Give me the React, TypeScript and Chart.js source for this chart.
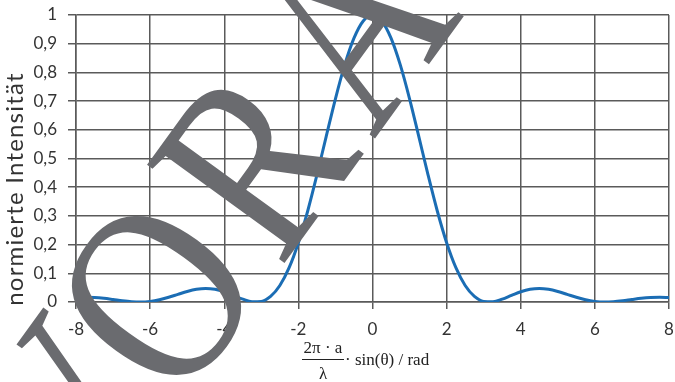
import React, { useEffect, useRef } from 'react';
import { Chart, registerables } from 'chart.js';

Chart.register(...registerables);

// x = 2π·a/λ · sin(θ)
const xValues = [
  -8, -7.75, -7.5, -7.25, -7, -6.75, -6.5, -6.25, -6, -5.75, -5.5, -5.25, -5,
  -4.75, -4.5, -4.25, -4, -3.75, -3.5, -3.25, -3, -2.75, -2.5, -2.25, -2,
  -1.75, -1.5, -1.25, -1, -0.75, -0.5, -0.25, 0,
  0.25, 0.5, 0.75, 1, 1.25, 1.5, 1.75, 2, 2.25, 2.5, 2.75, 3, 3.25, 3.5, 3.75,
  4, 4.25, 4.5, 4.75, 5, 5.25, 5.5, 5.75, 6, 6.25, 6.5, 6.75, 7, 7.25, 7.5, 7.75, 8,
];

const intensity = [
  0.0153, 0.0165, 0.0156, 0.0129, 0.0088, 0.0044, 0.0011, 0.0000, 0.0022, 0.0078, 0.0165, 0.0268, 0.0368,
  0.0443, 0.0472, 0.0443, 0.0358, 0.0232, 0.0100, 0.0011, 0.0022, 0.0193, 0.0573, 0.1196, 0.2067,
  0.3162, 0.4422, 0.5764, 0.7081, 0.8261, 0.9194, 0.9793, 1.0,
  0.9793, 0.9194, 0.8261, 0.7081, 0.5764, 0.4422, 0.3162, 0.2067, 0.1196, 0.0573, 0.0193, 0.0022, 0.0011, 0.0100, 0.0232,
  0.0358, 0.0443, 0.0472, 0.0443, 0.0368, 0.0268, 0.0165, 0.0078, 0.0022, 0.0000, 0.0011, 0.0044, 0.0088, 0.0129, 0.0156, 0.0165, 0.0153,
];

const yTickLabels = ['0', '0,1', '0,2', '0,3', '0,4', '0,5', '0,6', '0,7', '0,8', '0,9', '1'];
const yAxisTitle = 'normierte Intensität';
const xTitleNumerator = '2π · a';
const xTitleDenominator = 'λ';
const xTitleRest = '· sin(θ) / rad';
const watermarkText = 'VORAB';

const TICK_FONT = 'Lato';
const GRID = '#5a5a5a';
const LABEL = '#333333';

export default function App() {
  const ref = useRef<HTMLCanvasElement | null>(null);

  useEffect(() => {
    document.body.style.margin = '0';
    const canvas = ref.current;
    if (!canvas) return;
    const ctx = canvas.getContext('2d');
    if (!ctx) return;

    const overlay = {
      id: 'overlay',
      afterDraw(chart: any) {
        const c = chart.ctx as CanvasRenderingContext2D;
        // y-axis title
        c.save();
        c.fillStyle = LABEL;
        c.font = `24px ${TICK_FONT}`;
        (c as any).letterSpacing = '1.2px';
        c.translate(15, 189);
        c.rotate(-Math.PI / 2);
        c.textAlign = 'center';
        c.textBaseline = 'middle';
        c.fillText(yAxisTitle, 0, 0);
        c.restore();

        // x-axis title (fraction)
        c.save();
        c.fillStyle = '#222';
        c.strokeStyle = '#222';
        c.font = '17px "Liberation Serif"';
        c.textBaseline = 'alphabetic';
        c.textAlign = 'center';
        c.fillText(xTitleNumerator, 323, 353);
        c.fillText(xTitleDenominator, 323, 379);
        c.lineWidth = 1;
        c.beginPath();
        c.moveTo(302, 359.5);
        c.lineTo(344, 359.5);
        c.stroke();
        c.textAlign = 'left';
        c.fillText(xTitleRest, 345, 365);
        c.restore();

        // watermark (drawn letter by letter, centred on the "O")
        c.save();
        c.fillStyle = '#6a6b6f';
        const F = 258;
        const gaps = [-4, 20, 20, 20, 20];
        c.font = `${F}px "Liberation Serif"`;
        c.textBaseline = 'alphabetic';
        c.textAlign = 'left';
        c.translate(156, 295);
        c.rotate((-54 * Math.PI) / 180);
        c.scale(0.83, 1);
        const letters = watermarkText.split('');
        const widths = letters.map((l) => c.measureText(l).width);
        let x = -(widths[0] + gaps[0] + widths[1] / 2);
        letters.forEach((l, i) => {
          c.fillText(l, x, F * 0.33);
          x += widths[i] + gaps[i];
        });
        c.restore();
      },
    };

    const chart = new Chart(ctx, {
      type: 'line',
      data: {
        datasets: [
          {
            data: xValues.map((x, i) => ({ x, y: intensity[i] })),
            borderColor: '#1b6db4',
            borderWidth: 3,
            pointRadius: 0,
            fill: false,
            cubicInterpolationMode: 'monotone',
          },
        ],
      },
      options: {
        responsive: false,
        animation: false,
        layout: { padding: { top: 15, right: 6, left: 0, bottom: 0 } },
        plugins: { legend: { display: false }, tooltip: { enabled: false } },
        scales: {
          x: {
            type: 'linear',
            min: -8,
            max: 8,
            afterFit: (s: any) => { s.height = 80; s.paddingLeft = 0; s.paddingRight = 0; },
            ticks: {
              stepSize: 2,
              color: LABEL,
              font: { family: TICK_FONT, size: 17 },
              padding: 10,
              maxRotation: 0,
              callback: (v: any) => String(v),
            },
            grid: { color: GRID, lineWidth: 1.5, tickLength: 7 },
            border: { color: GRID, width: 1.5 },
          },
          y: {
            min: 0,
            max: 1,
            afterFit: (s: any) => { s.width = 76; s.paddingTop = 0; s.paddingBottom = 0; },
            ticks: {
              stepSize: 0.1,
              color: LABEL,
              font: { family: TICK_FONT, size: 17 },
              padding: 11,
              callback: (_v: any, i: number) => yTickLabels[i],
            },
            grid: { color: GRID, lineWidth: 1.5, tickLength: 8 },
            border: { color: GRID, width: 1.5 },
          },
        },
      },
      plugins: [overlay],
    });
    return () => chart.destroy();
  }, []);

  return (
    <div style={{ width: 675, height: 382 }}>
      <canvas ref={ref} width={675} height={382} style={{ display: 'block' }} />
    </div>
  );
}
